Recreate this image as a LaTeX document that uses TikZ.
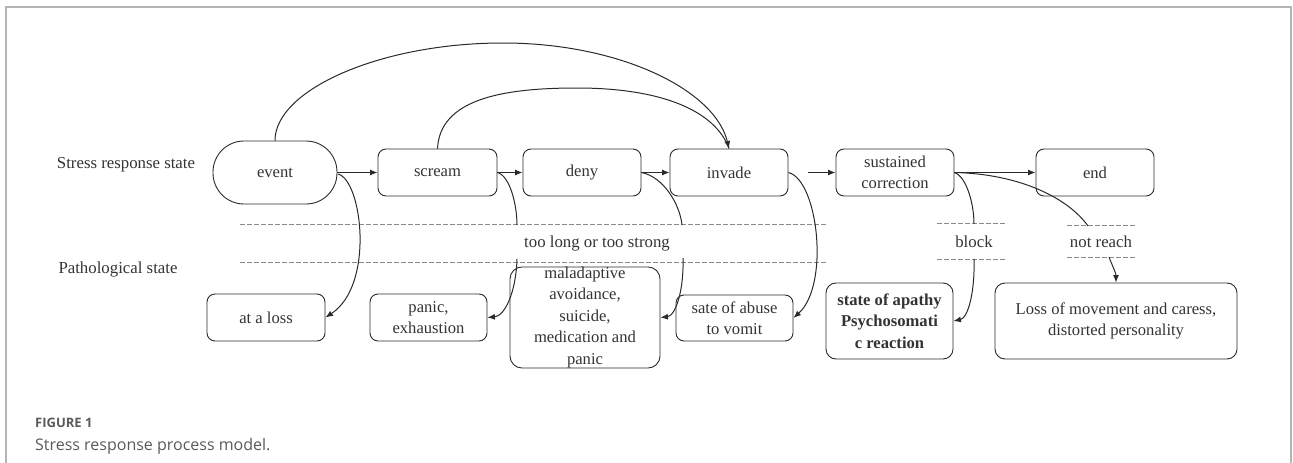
\documentclass[tikz,border=0pt]{standalone}
\usepackage{fontspec}
\setmainfont{Liberation Serif}
\newfontfamily\capfont{Open Sans}
\usetikzlibrary{arrows.meta}
\definecolor{linec}{HTML}{2A2A2A}
\definecolor{txt}{HTML}{333333}
\definecolor{framec}{HTML}{B4B4B4}
\definecolor{dashc}{HTML}{8A8A8A}
\definecolor{capc}{HTML}{5A5A5A}
\begin{document}
\begin{tikzpicture}[x=1pt,y=-1pt,
  box/.style={draw=linec, line width=0.9pt, rounded corners=8pt, align=center, text=txt,
    font=\fontsize{16.6}{21.5}\selectfont, inner sep=0pt},
  lab/.style={text=txt, font=\fontsize{16.8}{20}\selectfont, inner sep=0pt},
  dline/.style={draw=dashc, line width=0.8pt, dash pattern=on 5pt off 2pt},
  conn/.style={draw=linec, line width=1pt},
  arr/.style={conn, -{Latex[length=7.5pt,width=6pt]}}]
\useasboundingbox (0,0) rectangle (1293,463);
\draw[framec, line width=1.5pt] (6,463) -- (6,7) -- (1291,7) -- (1291,463);

% top row
\node[box, rounded corners=31pt, minimum width=124pt, minimum height=63pt] (event) at (275,172.5) {event};
\node[box, minimum width=119pt, minimum height=47pt] (scream) at (437.5,172.5) {scream};
\node[box, minimum width=118pt, minimum height=47pt] (deny) at (582,172.5) {deny};
\node[box, minimum width=118pt, minimum height=47pt] (invade) at (729,172.5) {invade};
\node[box, minimum width=118pt, minimum height=47pt] (sust) at (895,172.5) {sustained\\correction};
\node[box, minimum width=118pt, minimum height=47pt] (end) at (1095,172.5) {end};

% bottom row
\node[box, minimum width=118pt, minimum height=47pt] (atloss) at (266,317.5) {at a loss};
\node[box, minimum width=117pt, minimum height=47pt] (panic) at (428.5,317.5) {panic,\\exhaustion};
\node[box, rounded corners=12pt, minimum width=150pt, minimum height=101pt] (mal) at (585,317.5) {maladaptive\\avoidance,\\suicide,\\medication and\\panic};
\node[box, minimum width=117pt, minimum height=46pt] (sate) at (734.5,318) {sate of abuse\\to vomit};
\node[box, rounded corners=10pt, minimum width=127pt, minimum height=76pt, font=\bfseries\fontsize{16.6}{21.5}\selectfont] (apathy) at (889.5,321) {state of apathy\\Psychosomati\\c reaction};
\node[box, rounded corners=10pt, minimum width=242pt, minimum height=76pt] (lossmv) at (1116,321) {Loss of movement and caress,\\distorted personality};

% labels
\node[lab] (lstress) at (126,165) {Stress response state};
\node[lab] (lpath) at (118,269) {Pathological state};
\node[lab] (ltoo) at (597,243) {too long or too strong};
\node[lab] (lblock) at (974,242) {block};
\node[lab] (lnot) at (1101,242) {not reach};

% dashed lines
\coordinate (d1a) at (240,224); \coordinate (d1b) at (827,224);
\coordinate (d2a) at (240,262); \coordinate (d2b) at (827,262);
\coordinate (d3a) at (937,223); \coordinate (d3b) at (1007,223);
\coordinate (d4a) at (937,259); \coordinate (d4b) at (1007,259);
\coordinate (d5a) at (1067,225); \coordinate (d5b) at (1137,225);
\coordinate (d6a) at (1067,257); \coordinate (d6b) at (1137,257);
\draw[dline] (d1a) -- (d1b);
\draw[dline] (d2a) -- (d2b);
\draw[dline] (d3a) -- (d3b);
\draw[dline] (d4a) -- (d4b);
\draw[dline] (d5a) -- (d5b);
\draw[dline] (d6a) -- (d6b);

% horizontal arrows
\coordinate (istart) at (808,172.5);
\draw[arr] (event.east) -- (scream.west);
\draw[arr] (scream.east) -- (deny.west);
\draw[arr] (deny.east) -- (invade.west);
\draw[arr] (istart) -- (sust.west);
\draw[arr] (sust.east) -- (end.west);

% top arcs
\coordinate (outpk) at (503,43);
\coordinate (inpk) at (577,88);
\draw[conn] (event.north) .. controls (275,90) and (380,43) .. (outpk);
\draw[arr] (outpk) .. controls (620,43) and (715,90) .. (invade.north);
\draw[conn] (scream.north) .. controls (440,100) and (500,88) .. (inpk);
\draw[conn] (inpk) .. controls (660,88) and (715,110) .. (invade.north);

% curves down
\coordinate (es) at (338,174);
\draw[arr] (es) .. controls (362,180) and (375,285) .. (atloss.east);

\coordinate (sc1) at (517,225); \coordinate (sc2) at (517,259);
\draw[conn] (scream.east) .. controls (510,176) and (517,205) .. (sc1);
\draw[arr] (sc2) .. controls (516,292) and (505,316) .. (panic.east);

\coordinate (dn1) at (682,225); \coordinate (dn2) at (683,258);
\draw[conn] (deny.east) .. controls (664,177) and (680,205) .. (dn1);
\draw[arr] (dn2) .. controls (684,292) and (675,316) .. (mal.east);

\draw[arr] (invade.east) .. controls (818,180) and (830,285) .. (sate.east);

\coordinate (bl1) at (974,224); \coordinate (bl2) at (974,259);
\draw[conn] (sust.east) .. controls (967,177) and (974,205) .. (bl1);
\draw[arr] (bl2) .. controls (975,292) and (968,318) .. (apathy.east);

\coordinate (nr1) at (1088,226); \coordinate (nr2) at (1109,257);
\draw[conn] (sust.east) .. controls (1020,174) and (1068,198) .. (nr1);
\draw[arr] (nr2) .. controls (1112,265) and (1116,273) .. (lossmv.north);

% caption
\node[anchor=base west, text=capc, font=\capfont\bfseries\fontsize{13}{15}\selectfont, inner sep=0pt] (figlab) at (35,427) {FIGURE 1};
\node[anchor=base west, text=capc, font=\capfont\fontsize{16}{19}\selectfont, inner sep=0pt] (figcap) at (35,450) {Stress response process model.};
\end{tikzpicture}
\end{document}
